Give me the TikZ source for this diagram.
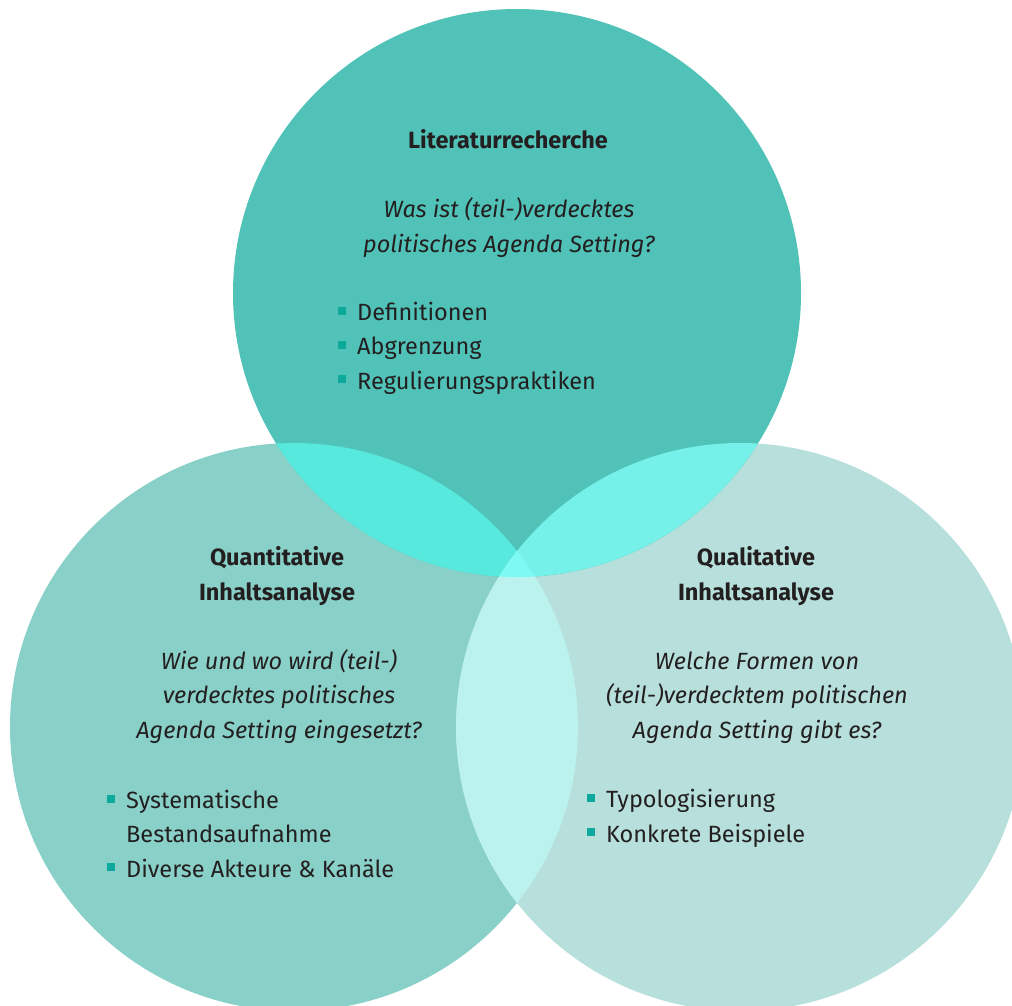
\documentclass[tikz,border=0pt]{standalone}
\usepackage{fontspec}
\setmainfont{Fira Sans}
\usetikzlibrary{positioning}
\definecolor{topc}{HTML}{50C2B7}
\definecolor{leftc}{HTML}{89D1C8}
\definecolor{rightc}{HTML}{B7E0DC}
\definecolor{topleftc}{HTML}{57E8DE}
\definecolor{toprightc}{HTML}{75F1EA}
\definecolor{leftrightc}{HTML}{BCF2EE}
\definecolor{allc}{HTML}{7DFAF4}
\definecolor{bulletc}{HTML}{0DA99C}
\definecolor{textc}{HTML}{231F20}
\newcommand{\sqbullet}{\makebox[19pt][l]{\textcolor{bulletc}{\rule[6pt]{8pt}{8pt}}}}
\newcommand{\rad}{284}
\tikzset{
    heading/.style={
        font=\fontsize{23.5}{34.5}\selectfont\bfseries,
        align=center,
        inner sep=0pt,
        anchor=base,
        text=textc
    },
    question/.style={
        font=\fontsize{23.5}{34.2}\selectfont\itshape,
        align=center,
        inner sep=0pt,
        anchor=base,
        text=textc
    },
    bulletlist/.style={
        font=\fontsize{23.5}{34.2}\selectfont,
        align=left,
        inner sep=0pt,
        anchor=base west,
        text=textc
    },
}
\begin{document}
\begin{tikzpicture}[x=1pt, y=-1pt]
        \useasboundingbox (0,0) rectangle (1012,1005);
        % circle centres
        \coordinate (ctop)   at (517,293);
        \coordinate (cleft)  at (294,727);
        \coordinate (cright) at (740,727);

        % circles
        \fill[leftc]  (cleft)  circle (\rad);
        \fill[rightc] (cright) circle (\rad);
        \fill[topc]   (ctop)   circle (\rad);

        % overlaps
        \begin{scope}
            \clip (ctop) circle (\rad);
            \fill[topleftc]  (cleft)  circle (\rad);
            \fill[toprightc] (cright) circle (\rad);
        \end{scope}
        \begin{scope}
            \clip (cleft) circle (\rad);
            \fill[leftrightc] (cright) circle (\rad);
            \clip (ctop) circle (\rad);
            \fill[allc] (cright) circle (\rad);
        \end{scope}

        % top circle (anchors sit on the last baseline)
        \node[heading] (littitle) at (508,148) {Literaturrecherche};
        \node[question] (litquestion) at (509,252) {Was ist (teil-)verdecktes\\politisches Agenda Setting?};
        \node[bulletlist] (litlist) at (338,389) {\sqbullet Definitionen\\\sqbullet Abgrenzung\\\sqbullet Regulierungspraktiken};

        % left circle
        \node[heading] (quanttitle) at (277,600) {Quantitative\\Inhaltsanalyse};
        \node[question] (quantquestion) at (279,738) {Wie und wo wird (teil-)\\verdecktes politisches\\Agenda Setting eingesetzt?};
        \node[bulletlist] (quantlist) at (107,877) {\sqbullet Systematische\\\hspace*{19pt}Bestandsaufnahme\\\sqbullet Diverse Akteure \& Kanäle};

        % right circle
        \node[heading] (qualtitle) at (756,600) {Qualitative\\Inhaltsanalyse};
        \node[question] (qualquestion) at (757,738) {Welche Formen von\\(teil-)verdecktem politischen\\Agenda Setting gibt es?};
        \node[bulletlist] (quallist) at (587,842) {\sqbullet Typologisierung\\\sqbullet Konkrete Beispiele};
\end{tikzpicture}
\end{document}
